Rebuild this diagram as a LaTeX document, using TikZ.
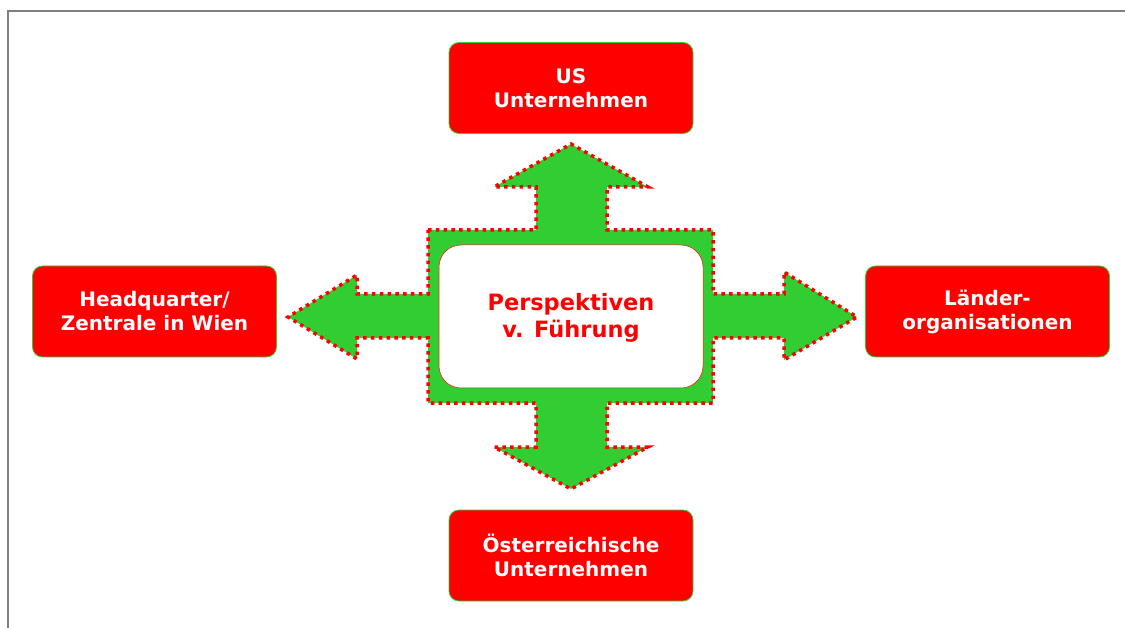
\documentclass[tikz,border=0pt]{standalone}
\usepackage{fontspec}
\setmainfont{DejaVu Sans}
\definecolor{arrowgreen}{RGB}{50,205,50}
\definecolor{boxred}{RGB}{255,0,0}
\definecolor{framegray}{RGB}{128,128,128}
\begin{document}
\begin{tikzpicture}[x=1pt,y=-1pt,
  redbox/.style={draw=arrowgreen, line width=0.8pt, fill=boxred, rounded corners=10pt,
    minimum width=244pt, minimum height=91pt, inner sep=0pt, align=center,
    text=white, font=\fontsize{20}{24}\selectfont\bfseries},
  outline/.style={draw=boxred, line width=3.5pt, dash pattern=on 3.5pt off 4.3pt, fill=arrowgreen},
  centertext/.style={text=boxred, align=center, font=\fontsize{22.5}{27}\selectfont\bfseries}
]
\useasboundingbox (0,0) rectangle (1125,628);
% frame
\draw[framegray, line width=2pt] (7.8,628) -- (7.8,10.8) -- (1125,10.8);
% big four-way arrow
\draw[outline]
  (428,230) -- (536,230) -- (536,187) -- (494,187) -- (571,144) -- (648,187) -- (607,187) -- (607,230)
  -- (713,230) -- (713,294) -- (784,294) -- (784,272) -- (857,317) -- (784,360) -- (784,338) -- (713,338)
  -- (713,403) -- (607,403) -- (607,447) -- (648,447) -- (571,489) -- (494,447) -- (536,447) -- (536,403)
  -- (428,403) -- (428,338) -- (357,338) -- (357,359) -- (288,317) -- (357,275) -- (357,294) -- (428,294) -- cycle;
% white center
\node[draw=boxred, line width=0.5pt, fill=white, rounded corners=22pt, minimum width=264pt,
  minimum height=143pt, inner sep=0pt] (center) at (571,316.5) {};
\node[centertext] (ctext) at (571,318) {Perspektiven\\v. Führung};
% boxes
\node[redbox] (us) at (571,88) {US\\Unternehmen};
\node[redbox] (hq) at (154.5,311.5) {Headquarter/\\Zentrale in Wien};
\node[redbox] (laender) at (987.5,311.5) {Länder-\\organisationen};
\node[redbox] (oe) at (571,555.5) {Österreichische\\Unternehmen};
\end{tikzpicture}
\end{document}
